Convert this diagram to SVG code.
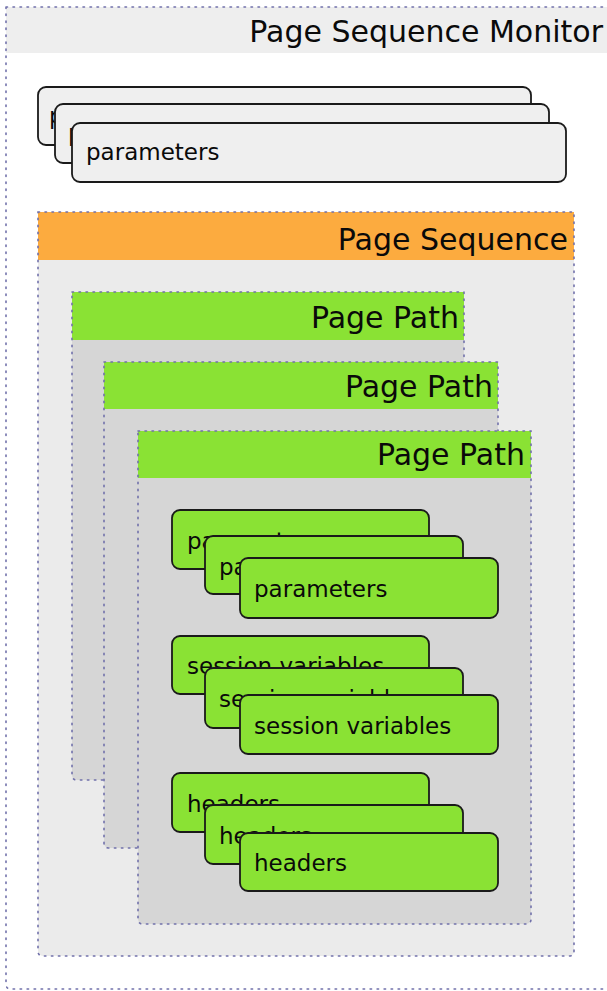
<svg xmlns="http://www.w3.org/2000/svg" width="607" height="991" viewBox="0 0 607 991">
  <style>
    .title { font-family: "DejaVu Sans", "Liberation Sans", sans-serif; font-size: 30px; fill: #0a0a0a; text-anchor: end; }
    .label { font-family: "DejaVu Sans", "Liberation Sans", sans-serif; font-size: 23px; fill: #0a0a0a; }
    .dotted { fill: none; stroke: #7070aa; stroke-width: 1.6; stroke-dasharray: 1.5 5.5; stroke-linecap: round; }
    .gbox { fill: #efefef; stroke: #1a1a1a; stroke-width: 1.8; }
    .vbox { fill: #8ae234; stroke: #1a1a1a; stroke-width: 1.8; }
    .green { fill: #8ae234; }
    .ppbody { fill: #d6d6d6; }
  </style>
  <rect width="607" height="991" fill="#ffffff"/>

  <g id="page-sequence-monitor">
    <rect x="6" y="7" width="606" height="982" rx="5" fill="#ffffff"/>
    <rect x="6" y="7" width="606" height="46" fill="#eeeeee"/>
    <path class="dotted" d="M6 7 H612 M6 7 V984 Q6 989 11 989 H612"/>
    <text class="title" x="603" y="42">Page Sequence Monitor</text>
  </g>

  <g id="monitor-parameters">
    <g id="monitor-parameters-1">
      <rect class="gbox" x="38" y="87" width="493" height="58" rx="8"/>
      <text class="label" x="49" y="124">parameters</text>
    </g>
    <g id="monitor-parameters-2">
      <rect class="gbox" x="55" y="104" width="494" height="59" rx="8"/>
      <text class="label" x="68" y="141">parameters</text>
    </g>
    <g id="monitor-parameters-3">
      <rect class="gbox" x="72" y="123" width="494" height="59" rx="8"/>
      <text class="label" x="86" y="160">parameters</text>
    </g>
  </g>

  <g id="page-sequence">
    <rect x="38" y="212" width="536" height="744" rx="5" fill="#ebebeb"/>
    <rect x="38" y="212" width="536" height="48" fill="#fcab3f"/>
    <path class="dotted" d="M38 212 H574 V951 Q574 956 569 956 H43 Q38 956 38 951 Z"/>
    <text class="title" x="568" y="250">Page Sequence</text>
  </g>

  <g id="page-path-1">
    <rect class="ppbody" x="72" y="292" width="392" height="488" rx="5"/>
    <rect class="green" x="72" y="292" width="392" height="48"/>
    <path class="dotted" d="M72 292 H464 V775 Q464 780 459 780 H77 Q72 780 72 775 Z"/>
    <text class="title" x="459" y="328">Page Path</text>
  </g>

  <g id="page-path-2">
    <rect class="ppbody" x="104" y="362" width="394" height="486" rx="5"/>
    <rect class="green" x="104" y="362" width="394" height="47"/>
    <path class="dotted" d="M104 362 H498 V843 Q498 848 493 848 H109 Q104 848 104 843 Z"/>
    <text class="title" x="493" y="397">Page Path</text>
  </g>

  <g id="page-path-3">
    <rect class="ppbody" x="138" y="431" width="393" height="493" rx="5"/>
    <rect class="green" x="138" y="431" width="393" height="47"/>
    <path class="dotted" d="M138 431 H531 V919 Q531 924 526 924 H143 Q138 924 138 919 Z"/>
    <text class="title" x="525" y="465">Page Path</text>
  </g>

  <g id="path-parameters">
    <g id="path-parameters-1">
      <rect class="vbox" x="172" y="510" width="257" height="59" rx="8"/>
      <text class="label" x="187" y="549">parameters</text>
    </g>
    <g id="path-parameters-2">
      <rect class="vbox" x="205" y="536" width="258" height="58" rx="8"/>
      <text class="label" x="219" y="575">parameters</text>
    </g>
    <g id="path-parameters-3">
      <rect class="vbox" x="240" y="558" width="258" height="60" rx="8"/>
      <text class="label" x="254" y="597">parameters</text>
    </g>
  </g>

  <g id="session-variables">
    <g id="session-variables-1">
      <rect class="vbox" x="172" y="636" width="257" height="58" rx="8"/>
      <text class="label" x="187" y="674">session variables</text>
    </g>
    <g id="session-variables-2">
      <rect class="vbox" x="205" y="668" width="258" height="60" rx="8"/>
      <text class="label" x="219" y="707">session variables</text>
    </g>
    <g id="session-variables-3">
      <rect class="vbox" x="240" y="695" width="258" height="59" rx="8"/>
      <text class="label" x="254" y="734">session variables</text>
    </g>
  </g>

  <g id="headers">
    <g id="headers-1">
      <rect class="vbox" x="172" y="773" width="257" height="59" rx="8"/>
      <text class="label" x="187" y="812">headers</text>
    </g>
    <g id="headers-2">
      <rect class="vbox" x="205" y="805" width="258" height="59" rx="8"/>
      <text class="label" x="219" y="844">headers</text>
    </g>
    <g id="headers-3">
      <rect class="vbox" x="240" y="833" width="258" height="58" rx="8"/>
      <text class="label" x="254" y="871">headers</text>
    </g>
  </g>

  <g id="connectors"/>
</svg>
